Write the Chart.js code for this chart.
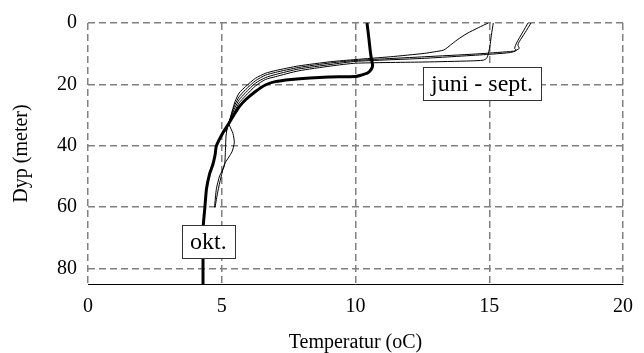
<!DOCTYPE html>
<html>
<head>
<meta charset="utf-8">
<script src="https://cdn.jsdelivr.net/npm/chart.js@4.4.1/dist/chart.umd.min.js"></script>
<style>
  html, body { margin: 0; padding: 0; background: #fff; }
  #wrap { width: 644px; height: 353px; }
</style>
</head>
<body>
<div id="wrap"><canvas id="tempChart" width="644" height="353"></canvas></div>
<script>
// Temperaturprofiler (temperatur oC mot dyp i meter)
const oktTemp  = [10.43, 10.5, 10.55, 10.6, 10.64, 10.58, 10.45, 10.2, 10.0, 9.0, 8.3, 7.6, 7.0, 6.63, 6.26, 5.89, 5.65, 5.45, 5.28, 5.04, 4.8, 4.75, 4.67, 4.55, 4.43, 4.37, 4.31, 4.3, 4.3];
const oktDepth = [0, 5, 9, 12, 13.8, 15.2, 16.3, 17.0, 17.4, 17.6, 17.9, 18.4, 19.1, 20.2, 22.3, 25.0, 27.3, 30.0, 32.5, 35.8, 40, 43, 46, 49, 54, 60, 66, 75, 85];

const juniTemp  = [14.96, 14.6, 14.17, 13.8, 13.55, 13.3, 12.94, 12.57, 11.3, 10.0, 9.08, 7.86, 7.0, 6.63, 6.26, 5.89, 5.65, 5.5, 5.35, 5.28, 5.42, 5.47, 5.38, 5.1, 4.97, 4.85, 4.75];
const juniDepth = [0, 1.5, 3.4, 5.5, 7.2, 8.8, 9.4, 9.9, 11.0, 11.9, 12.6, 14.0, 15.5, 16.4, 18.0, 20.7, 22.8, 25.5, 30.0, 33.0, 36.0, 39.0, 42.0, 46.0, 50.3, 55.0, 60.0];

const juliTemp  = [15.15, 15.08, 15.02, 14.95, 14.9, 14.78, 14.3, 12.6, 10.0, 9.08, 7.86, 7.0, 6.63, 6.26, 5.89, 5.65, 5.5, 5.35, 5.22, 5.16, 5.14, 5.1, 4.92, 4.8, 4.73];
const juliDepth = [0, 4, 7.8, 10.5, 11.5, 12.1, 12.35, 12.7, 13.1, 14.0, 15.6, 17.5, 18.4, 20.5, 23.7, 26.0, 28.5, 31.0, 33.5, 36.8, 41.0, 46.5, 49.8, 54.0, 60.0];

const augTemp  = [16.56, 16.35, 16.12, 16.07, 16.12, 15.94, 15.76, 14.5, 12.57, 10.0, 9.08, 7.86, 7.0, 6.63, 6.26, 5.89, 5.65, 5.5, 5.35, 5.25, 5.18];
const augDepth = [0, 3, 6.1, 7.2, 8.3, 9.1, 9.3, 10.1, 11.0, 12.2, 13.0, 14.5, 16.1, 17.0, 18.8, 21.7, 24.0, 26.5, 30.0, 33.0, 35.0];

const septTemp  = [16.45, 16.25, 16.02, 15.95, 16.0, 15.8, 15.0, 12.57, 10.0, 9.08, 7.86, 7.0, 6.63, 6.26, 5.89, 5.65, 5.5, 5.35, 5.25, 5.15];
const septDepth = [0, 3, 6.5, 8.2, 9.0, 9.6, 10.2, 11.5, 12.5, 13.5, 15.0, 16.8, 17.8, 19.6, 22.7, 25.0, 27.5, 30.5, 33.0, 35.5];

const xTicks = [0, 5, 10, 15, 20];
const yTicks = [0, 20, 40, 60, 80];

// tekstbokser (venstre kant / midten i dataenheter)
const labelBoxes = [
    { text: 'juni - sept.', x: 12.51, y: 19.6 },
    { text: 'okt.', x: 3.5, y: 71.0 }
];

const serif = "'Liberation Serif', 'Times New Roman', serif";
const gridDash = [7, 4];

function toPoints(temps, depths) {
    return temps.map((t, i) => ({ x: t, y: depths[i] }));
}

function thinLine(label, temps, depths) {
    return {
        label: label,
        data: toPoints(temps, depths),
        borderColor: '#000',
        borderWidth: 1,
        showLine: true,
        pointRadius: 0,
        tension: 0.2
    };
}

const boxPlugin = {
    id: 'labelBoxes',
    afterDatasetsDraw(chart) {
        const ctx = chart.ctx;
        const xs = chart.scales.x;
        const ys = chart.scales.y;
        ctx.save();
        ctx.font = '24px ' + serif;
        ctx.textBaseline = 'middle';
        labelBoxes.forEach(b => {
            const left = Math.round(xs.getPixelForValue(b.x));
            const mid = ys.getPixelForValue(b.y);
            const w = Math.round(ctx.measureText(b.text).width + 16);
            const h = 33;
            const top = Math.round(mid - h / 2);
            ctx.fillStyle = '#fff';
            ctx.fillRect(left, top, w, h);
            ctx.strokeStyle = '#333';
            ctx.lineWidth = 1;
            ctx.strokeRect(left + 0.5, top + 0.5, w, h);
            ctx.fillStyle = '#000';
            ctx.fillText(b.text, left + 8, mid + 2);
        });
        ctx.restore();
    }
};

const ctx = document.getElementById('tempChart').getContext('2d');
const tempChart = new Chart(ctx, {
    type: 'scatter',
    data: {
        datasets: [
            {
                label: 'okt.',
                data: toPoints(oktTemp, oktDepth),
                borderColor: '#000',
                borderWidth: 3,
                showLine: true,
                pointRadius: 0,
                tension: 0.2
            },
            thinLine('juni', juniTemp, juniDepth),
            thinLine('juli', juliTemp, juliDepth),
            thinLine('aug', augTemp, augDepth),
            thinLine('sept', septTemp, septDepth)
        ]
    },
    options: {
        responsive: false,
        devicePixelRatio: 1,
        animation: false,
        layout: { padding: { top: 21, right: 12, left: 0, bottom: 0 } },
        plugins: {
            legend: { display: false },
            tooltip: { enabled: false }
        },
        scales: {
            x: {
                type: 'linear',
                position: 'bottom',
                min: 0,
                max: 20,
                afterBuildTicks: scale => { scale.ticks = xTicks.map(v => ({ value: v })); },
                afterFit: scale => { scale.height = 69; },
                grid: { color: '#808080', lineWidth: 1.5, drawTicks: false },
                // dash here styles the grid lines, the axis line itself stays solid
                border: { display: true, color: '#000', width: 1, dash: gridDash },
                ticks: {
                    color: '#000',
                    padding: 11,
                    font: { family: serif, size: 20 }
                },
                title: {
                    display: true,
                    text: 'Temperatur (oC)',
                    color: '#000',
                    padding: { top: 0, bottom: 0 },
                    font: { family: serif, size: 20, lineHeight: 1 }
                }
            },
            y: {
                type: 'linear',
                reverse: true,
                min: 0,
                max: 85,
                afterBuildTicks: scale => { scale.ticks = yTicks.map(v => ({ value: v })); },
                afterFit: scale => { scale.width = 88; },
                grid: { color: '#808080', lineWidth: 1.5, drawTicks: false },
                border: { display: false, dash: gridDash },
                ticks: {
                    color: '#000',
                    padding: 11,
                    font: { family: serif, size: 20 }
                },
                title: {
                    display: true,
                    text: 'Dyp (meter)',
                    color: '#000',
                    padding: { top: 12, bottom: 0 },
                    font: { family: serif, size: 20, lineHeight: 1 }
                }
            }
        }
    },
    plugins: [boxPlugin]
});
</script>
</body>
</html>
